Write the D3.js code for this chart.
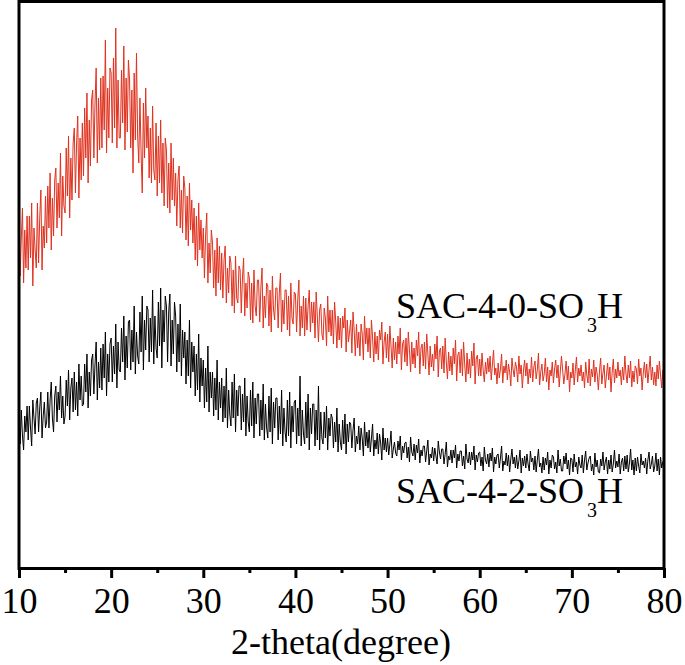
<!DOCTYPE html>
<html><head><meta charset="utf-8">
<script src="https://cdn.jsdelivr.net/npm/d3@7"></script>
<style>
body{margin:0;background:#fff}
svg text{font-family:"Liberation Serif","Times New Roman",Times,"DejaVu Serif",serif}
</style>
</head><body>
<svg id="chart" width="685" height="665"></svg>
<script>
// ---- data (intensity, arbitrary units; 2-theta from 10 to 80 deg, step 0.125) ----
const thetaStart = 10;
const thetaStep = 0.125;
const xTicks = [10, 20, 30, 40, 50, 60, 70, 80];
const xMinorTicks = [15, 25, 35, 45, 55, 65, 75];
const xTitle = "2-theta(degree)";
const seriesNames = ["SAC-4-0-SO", "SAC-4-2-SO"];

const sac40 = [
345,292,330,360,285,338,300,352,
298,352,310,365,282,340,318,300,
365,305,350,378,298,342,320,372,
325,382,340,395,318,370,332,388,
400,340,385,350,415,332,392,362,
355,420,372,432,350,410,368,425,
440,375,425,452,370,430,388,445,
392,460,410,475,385,448,402,468,
478,410,465,500,405,470,418,490,
420,492,438,528,415,480,430,500,
495,425,510,440,540,420,488,430,
430,498,445,522,418,490,436,508,
488,420,478,395,495,428,515,432,
405,470,415,375,465,410,480,420,
452,390,440,385,462,398,388,445,
372,432,385,448,375,425,362,430,
418,360,405,355,425,368,410,362,
395,342,388,402,340,378,335,392,
380,328,372,322,385,338,368,325,
360,308,352,302,365,318,348,310,
340,290,332,355,285,325,295,338,
325,280,318,272,330,285,322,278,
315,270,308,322,265,300,275,312,
305,262,298,255,312,270,265,302,
298,255,290,310,252,285,260,296,
290,248,285,245,298,262,252,288,
288,246,280,300,240,272,250,285,
282,242,278,236,292,258,248,280,
280,240,275,295,236,268,244,278,
278,238,272,232,285,250,244,276,
274,236,268,288,232,262,240,272,
232,270,238,262,278,236,266,245,
266,230,276,252,226,258,264,234,
228,260,250,222,272,236,258,232,
258,224,266,246,220,252,228,250,
220,252,240,260,216,248,226,236,
248,215,256,238,212,244,220,236,
212,244,234,208,252,224,240,216,
240,210,248,230,206,236,214,232,
208,238,228,246,204,226,236,210,
234,206,242,222,200,230,208,226,
204,232,214,240,198,224,228,206,
230,202,236,218,196,226,204,220,
200,228,212,236,194,220,224,202,
226,199,234,214,193,222,201,214,
197,224,209,232,191,217,220,199,
222,195,230,206,189,216,197,212,
193,220,204,228,187,213,216,195,
219,192,226,203,186,215,194,209,
190,217,202,225,184,210,213,192,
209,192,215,198,186,206,194,210,
196,212,188,203,218,193,200,184,
205,190,199,214,185,202,195,208,
188,204,196,182,210,198,191,206,
200,186,212,194,203,180,197,208,
192,205,184,199,190,211,186,201,
207,189,198,215,183,196,204,187,
194,210,186,201,178,198,192,206,
185,199,208,190,203,181,197,212,
198,184,194,207,188,202,176,196,
190,205,183,198,211,186,200,192,
203,187,196,180,206,193,185,209,
182,199,191,208,186,201,194,178,
197,210,184,195,203,180,192,205,
188,201,176,196,209,185,199,190,
206,192,198,183,201,188,212,194,
185,203,190,207,181,197,186,202,
199,184,209,192,200,178,195,206,
190,204,185,198,212,188,201,183,
196,182,203,189,207,193,180,198,
188
];

const sac42 = [
150,124,158,132,118,152,136,162,
128,162,140,122,168,150,134,165,
170,136,160,176,130,152,166,140,
146,176,140,168,186,150,136,172,
182,146,176,158,192,150,172,144,
152,188,162,198,148,180,190,156,
196,158,186,152,204,168,192,162,
164,204,176,214,160,196,172,208,
214,174,204,226,168,206,180,220,
178,224,190,236,172,214,186,224,
230,186,222,194,244,180,226,198,
196,240,206,252,188,232,200,246,
248,198,238,206,262,194,236,212,
204,256,216,272,198,248,218,262,
258,206,250,216,278,204,252,220,
210,266,222,280,200,258,226,272,
262,206,256,274,202,248,214,266,
252,196,244,206,264,192,238,210,
236,184,228,192,248,180,226,196,
222,172,214,178,234,166,210,182,
208,160,200,166,222,156,196,170,
196,152,190,158,208,148,186,160,
190,146,182,150,200,140,178,154,
142,186,150,194,136,178,152,182,
182,138,174,146,190,132,172,146,
136,178,142,186,130,170,144,174,
174,132,168,138,184,128,164,140,
130,172,136,180,124,166,140,170,
170,128,162,134,178,122,160,136,
126,168,132,176,120,162,136,166,
168,124,160,132,192,122,158,134,
124,166,130,174,118,160,134,164,
164,122,158,128,182,118,156,130,
124,156,130,162,118,150,132,154,
150,120,146,126,160,116,144,126,
118,148,124,154,114,144,126,146,
144,120,138,150,116,132,124,142,
118,140,130,112,146,122,136,120,
138,116,130,144,112,128,119,135,
114,134,125,108,140,118,130,116,
130,113,124,137,110,119,126,115,
112,127,118,132,108,122,115,125,
126,110,121,106,131,116,112,124,
108,123,115,129,105,118,112,122,
122,106,117,128,103,114,110,121,
107,120,112,104,127,116,109,119,
119,104,114,126,101,112,108,118,
105,118,110,123,100,114,107,117,
117,102,112,99,124,109,105,116,
103,116,108,122,98,113,106,115,
116,102,111,97,121,108,104,114,
101,115,107,120,96,111,104,113,
114,100,110,122,97,107,103,115,
102,113,96,109,119,104,111,100,
113,99,107,118,95,110,102,112,
100,114,104,97,117,106,110,98,
112,96,108,119,101,105,95,111,
98,110,103,116,94,108,100,113,
111,99,106,95,118,102,109,97,
97,112,104,115,99,108,93,110,
109,96,114,101,106,94,111,103,
100,113,95,108,117,98,105,110,
112,97,104,93,115,101,108,96,
95,109,102,116,98,106,111,94,
108,99,113,96,104,118,100,107,
101,114,94,106,110,97,112,99,
113,96,105,119,98,108,93,110,
97,111,102,95,114,103,107,100,
110,94,108,116,99,104,112,96,
102,115,97,109,93,111,100,106,
108
];

// ---- chart ----
const svg = d3.select("#chart");
const x = d3.scaleLinear().domain([10, 80]).range([19, 664]);
const y = d3.scaleLinear().domain([0, 566]).range([568, 2]);
const FONT = '"Liberation Serif","Times New Roman",Times,"DejaVu Serif",serif';

const toPts = arr => arr.map((v, i) => [thetaStart + i * thetaStep, v]);
const line = d3.line().x(d => x(d[0])).y(d => y(d[1]));

svg.append("defs").append("clipPath").attr("id", "clip")
  .append("rect").attr("x", 19).attr("y", 2).attr("width", 645).attr("height", 566);

const plot = svg.append("g").attr("clip-path", "url(#clip)");
plot.append("path").datum(toPts(sac42))
  .attr("d", line).attr("fill", "none").attr("stroke", "#000").attr("stroke-width", 1);
plot.append("path").datum(toPts(sac40))
  .attr("d", line).attr("fill", "none").attr("stroke", "#e0321f").attr("stroke-width", 1);

// frame
svg.append("rect").attr("x", 19).attr("y", 1.5).attr("width", 645).attr("height", 567)
  .attr("fill", "none").attr("stroke", "#000").attr("stroke-width", 3);

// axes
const gMinor = svg.append("g").attr("transform", "translate(0,568)")
  .call(d3.axisBottom(x).tickValues(xMinorTicks).tickSize(5).tickFormat(""));
gMinor.select(".domain").remove();
gMinor.selectAll("line").attr("stroke-width", 3);

const gMajor = svg.append("g").attr("transform", "translate(0,568)")
  .call(d3.axisBottom(x).tickValues(xTicks).tickSize(10).tickPadding(9).tickFormat(d3.format("d")));
gMajor.attr("font-family", FONT).attr("font-size", 36);
gMajor.select(".domain").remove();
gMajor.selectAll("line").attr("stroke-width", 3);
gMajor.selectAll("text").attr("font-size", 36).attr("fill", "#000").attr("font-family", FONT);

svg.append("text").attr("x", 341).attr("y", 654).attr("text-anchor", "middle")
  .attr("font-family", FONT).attr("font-size", 36).text(xTitle);

// labels
function label(name, xp, yp) {
  const t = svg.append("text").attr("x", xp).attr("y", yp)
    .attr("font-family", FONT).attr("font-size", 36);
  t.append("tspan").text(name);
  t.append("tspan").attr("dx", 3).attr("dy", 14).attr("font-size", 20).text("3");
  t.append("tspan").attr("dy", -14).text("H");
}
label(seriesNames[0], 396, 318);
label(seriesNames[1], 396, 503);
</script>
</body></html>
